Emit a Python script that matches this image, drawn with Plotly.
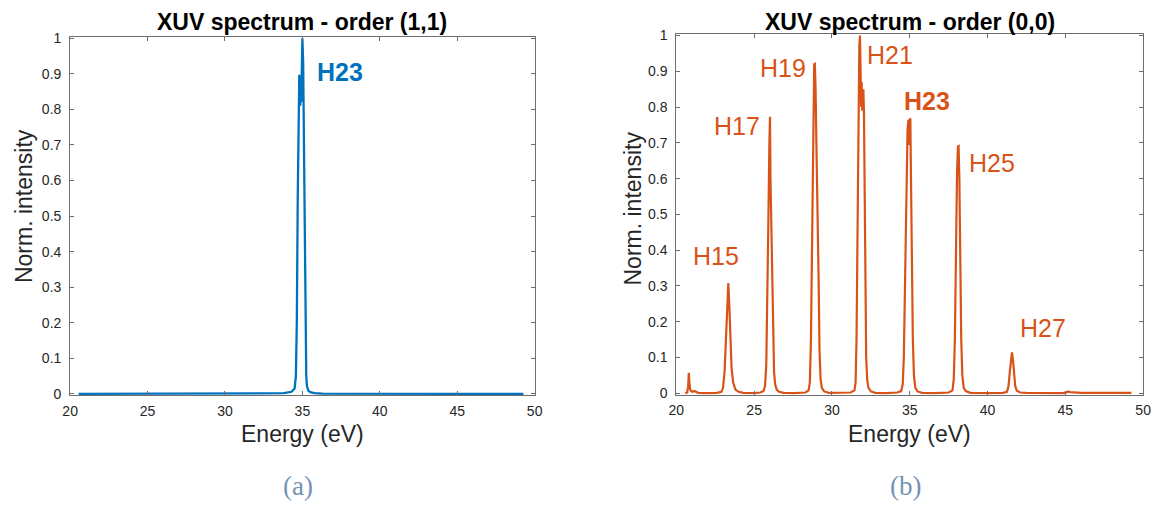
import plotly.graph_objects as go

# ---------------- data ----------------
energy_11 = [20.55, 25.0, 30.0, 33.0, 33.8, 34.3, 34.5, 34.58, 34.64, 34.70, 34.76, 34.80,
             34.83, 34.86, 34.89, 34.92, 34.96, 35.00, 35.05, 35.10, 35.15, 35.20, 35.25,
             35.30, 35.40, 35.55, 35.80, 36.3, 40.0, 45.0, 49.28]
intensity_11 = [0, 0, 0, 0.0005, 0.002, 0.006, 0.015, 0.05, 0.2, 0.55, 0.85, 0.897,
                0.83, 0.81, 0.87, 0.82, 0.9, 1.0, 0.93, 0.7, 0.4, 0.15, 0.05,
                0.02, 0.008, 0.004, 0.002, 0.001, 0, 0, 0]

energy_00 = [20.57, 20.70, 20.76, 20.80, 20.84, 20.88, 20.95, 21.05, 21.15, 21.25, 21.4,
             22.0, 22.6, 22.9, 23.0, 23.1, 23.2, 23.28, 23.34, 23.4, 23.47, 23.55, 23.65,
             23.8, 24.0, 24.3, 25.0, 25.4, 25.6, 25.7, 25.78, 25.85, 25.92, 25.98, 26.02,
             26.05, 26.08, 26.12, 26.17, 26.22, 26.28, 26.35, 26.45, 26.6, 26.9, 27.6,
             28.3, 28.5, 28.58, 28.65, 28.72, 28.8, 28.86, 28.9, 28.95, 29.0, 29.05, 29.08,
             29.1, 29.15, 29.2, 29.27, 29.35, 29.5, 29.8, 30.5, 31.2, 31.45, 31.52, 31.58,
             31.64, 31.7, 31.76, 31.8, 31.84, 31.88, 31.91, 31.95, 31.99, 32.02, 32.06,
             32.1, 32.15, 32.2, 32.27, 32.35, 32.5, 32.8, 33.5, 34.2, 34.45, 34.55, 34.62,
             34.7, 34.78, 34.86, 34.92, 34.97, 35.0, 35.04, 35.08, 35.14, 35.2, 35.27,
             35.36, 35.5, 35.8, 36.6, 37.5, 37.75, 37.83, 37.9, 37.97, 38.04, 38.1, 38.14,
             38.19, 38.25, 38.31, 38.38, 38.47, 38.6, 38.9, 40.0, 41.0, 41.25, 41.35,
             41.43, 41.5, 41.57, 41.63, 41.7, 41.78, 41.88, 42.1, 42.5, 43.5, 44.9, 45.1,
             45.18, 45.3, 45.5, 46.0, 47.5, 49.25]
intensity_00 = [0.0, 0.002, 0.02, 0.057, 0.03, 0.012, 0.006, 0.004, 0.006, 0.003, 0.001,
                0.0005, 0.001, 0.004, 0.015, 0.06, 0.17, 0.26, 0.308, 0.25, 0.15, 0.07, 0.03,
                0.01, 0.004, 0.001, 0.0005, 0.002, 0.006, 0.02, 0.08, 0.25, 0.5, 0.7, 0.773,
                0.6, 0.52, 0.45, 0.3, 0.15, 0.06, 0.025, 0.01, 0.004, 0.001, 0.0005,
                0.002, 0.008, 0.03, 0.15, 0.45, 0.8, 0.92, 0.921, 0.85, 0.7, 0.58, 0.55,
                0.5, 0.3, 0.12, 0.04, 0.015, 0.005, 0.001, 0.0005, 0.002, 0.008, 0.03, 0.15,
                0.5, 0.85, 0.97, 1.0, 0.9, 0.8, 0.87, 0.79, 0.83, 0.85, 0.78,
                0.5, 0.25, 0.1, 0.035, 0.015, 0.005, 0.001, 0.0005, 0.002, 0.006, 0.025, 0.1,
                0.35, 0.6, 0.74, 0.765, 0.694, 0.76, 0.769, 0.6, 0.35, 0.15, 0.05,
                0.015, 0.005, 0.001, 0.0005, 0.002, 0.008, 0.04, 0.15, 0.4, 0.62, 0.69, 0.691,
                0.6, 0.35, 0.15, 0.05, 0.015, 0.006, 0.001, 0.0005, 0.001, 0.004, 0.02,
                0.06, 0.1, 0.114, 0.095, 0.055, 0.02, 0.007, 0.002, 0.001, 0.0005, 0.0005, 0.003,
                0.005, 0.003, 0.002, 0.001, 0.0008, 0.0008]

x_ticks = [20, 25, 30, 35, 40, 45, 50]
y_ticks = [0, 0.1, 0.2, 0.3, 0.4, 0.5, 0.6, 0.7, 0.8, 0.9, 1]
y_tick_labels = ["0", "0.1", "0.2", "0.3", "0.4", "0.5", "0.6", "0.7", "0.8", "0.9", "1"]

titles = ["XUV spectrum - order (1,1)", "XUV spectrum - order (0,0)"]
captions = ["(a)", "(b)"]
x_label = "Energy (eV)"
y_label = "Norm. intensity"

labels_11 = ["<b>H23</b>"]
label_x_11 = [37.45]
label_y_11 = [0.904]

labels_00 = ["H15", "H17", "H19", "H21", "<b>H23</b>", "H25", "H27"]
label_x_00 = [22.57, 23.92, 26.83, 33.71, 36.12, 40.29, 43.57]
label_y_00 = [0.383, 0.746, 0.908, 0.947, 0.817, 0.644, 0.181]

# ---------------- layout helpers (pixel -> paper) ----------------
W, H = 1160, 511
def fx(px):
    return px / W
def fy(py):
    return 1 - py / H

BLUE = "#0072BD"
ORANGE = "#D95319"
FONT = "Liberation Sans, Arial, sans-serif"
AX_COL = "#6e6e6e"
TXT_COL = "#262626"
PAD = 0.004

fig = go.Figure()
fig.add_trace(go.Scatter(x=energy_11, y=intensity_11, mode="lines",
                         line=dict(color=BLUE, width=2.3), xaxis="x", yaxis="y",
                         showlegend=False, hoverinfo="skip"))
fig.add_trace(go.Scatter(x=energy_00, y=intensity_00, mode="lines",
                         line=dict(color=ORANGE, width=2.2), xaxis="x2", yaxis="y2",
                         showlegend=False, hoverinfo="skip"))

def xaxis(dom, anchor):
    return dict(domain=dom, anchor=anchor, range=[20, 50], tickvals=x_ticks,
                ticks="inside", ticklen=4, tickcolor=AX_COL, showline=True,
                linecolor=AX_COL, linewidth=1, mirror="ticks", showgrid=False,
                zeroline=False, ticklabelstandoff=3,
                tickfont=dict(family=FONT, size=14, color=TXT_COL), fixedrange=True)

def yaxis(dom, anchor):
    return dict(domain=dom, anchor=anchor, range=[-PAD, 1 + PAD], tickvals=y_ticks,
                ticktext=y_tick_labels, ticks="inside", ticklen=4, tickcolor=AX_COL,
                showline=True, linecolor=AX_COL, linewidth=1, mirror="ticks",
                showgrid=False, zeroline=False, ticklabelstandoff=5,
                tickfont=dict(family=FONT, size=14, color=TXT_COL), fixedrange=True)

# pixel geometry of the two boxes (y=0 and y=1 positions)
L1, R1, T1, B1 = 63, 534, 32, 397
L2, R2, T2, B2 = 677.7, 1151, 29.3, 396.3
pad1 = (B1 - T1) * PAD
pad2 = (B2 - T2) * PAD

fig.update_layout(
    width=W, height=H, autosize=False,
    margin=dict(l=0, r=0, t=0, b=0, pad=0),
    paper_bgcolor="white", plot_bgcolor="white",
    xaxis=xaxis([fx(L1), fx(R1)], "y"),
    yaxis=yaxis([fy(B1 + pad1), fy(T1 - pad1)], "x"),
    xaxis2=xaxis([fx(L2), fx(R2)], "y2"),
    yaxis2=yaxis([fy(B2 + pad2), fy(T2 - pad2)], "x2"),
)

ann = []
# titles
for t, cx, cy in zip(titles, [(L1 + R1) / 2, (L2 + R2) / 2], [15.5, 15.0]):
    ann.append(dict(text="<b>%s</b>" % t, x=fx(cx), y=fy(cy), xref="paper", yref="paper",
                    xanchor="center", yanchor="middle", showarrow=False,
                    font=dict(family=FONT, size=23, color="#000000")))
# x labels
for cx in [(L1 + R1) / 2, (L2 + R2) / 2]:
    ann.append(dict(text=x_label, x=fx(cx), y=fy(438.5), xref="paper", yref="paper",
                    xanchor="center", yanchor="middle", showarrow=False,
                    font=dict(family=FONT, size=23, color=TXT_COL)))
# y labels
for cx, cy in [(16.5, 204), (633.5, 207)]:
    ann.append(dict(text=y_label, x=fx(cx), y=fy(cy), xref="paper", yref="paper",
                    xanchor="center", yanchor="middle", showarrow=False, textangle=-90,
                    font=dict(family=FONT, size=23, color=TXT_COL)))
# captions
for c, cx in zip(captions, [294, 910]):
    ann.append(dict(text=c, x=fx(cx), y=fy(492), xref="paper", yref="paper",
                    xanchor="center", yanchor="middle", showarrow=False,
                    font=dict(family="Liberation Serif, DejaVu Serif, serif", size=27,
                              color="#7394b6")))
# peak labels
for t, x, y in zip(labels_11, label_x_11, label_y_11):
    ann.append(dict(text=t, x=x, y=y, xref="x", yref="y", showarrow=False,
                    xanchor="center", yanchor="middle",
                    font=dict(family=FONT, size=25, color=BLUE)))
for t, x, y in zip(labels_00, label_x_00, label_y_00):
    ann.append(dict(text=t, x=x, y=y, xref="x2", yref="y2", showarrow=False,
                    xanchor="center", yanchor="middle",
                    font=dict(family=FONT, size=25, color=ORANGE)))

fig.update_layout(annotations=ann, hovermode=False)
# remove the default 8px page margin so the figure sits exactly in the window
fig.write_html("out.html",
               config={"displayModeBar": False, "staticPlot": True},
               post_script="document.body.style.margin='0';"
                           "document.documentElement.style.overflow='hidden';")
